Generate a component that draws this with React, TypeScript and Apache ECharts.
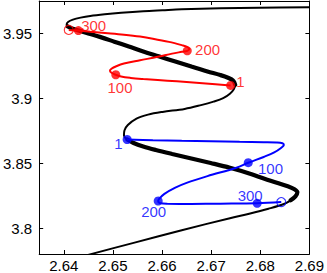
import React, { useEffect, useRef } from "react";
import * as echarts from "echarts";

// Axis ticks
const xTicks = [2.64, 2.65, 2.66, 2.67, 2.68, 2.69];
const yTicks = [3.8, 3.85, 3.9, 3.95];

// Black S-curve (x, y), from bottom to top
const blackCurve: number[][] = [
  [2.64475, 3.77915], [2.65422, 3.78859], [2.66402, 3.79835], [2.67382, 3.80757],
  [2.67775, 3.81102], [2.68167, 3.81486], [2.68494, 3.8187], [2.68618, 3.82139],
  [2.68716, 3.82446], [2.68755, 3.82753], [2.68696, 3.82984], [2.68559, 3.83214],
  [2.68225, 3.83621], [2.67775, 3.84213], [2.67382, 3.84651], [2.6699, 3.85019],
  [2.66598, 3.85365], [2.66206, 3.8571], [2.65873, 3.86018], [2.65618, 3.86286],
  [2.65422, 3.86555], [2.65294, 3.86824], [2.65225, 3.87131], [2.65235, 3.87515],
  [2.65304, 3.87938], [2.6548, 3.88437], [2.65716, 3.88744], [2.6601, 3.88952],
  [2.66461, 3.89182], [2.66794, 3.89474], [2.67049, 3.89743], [2.67245, 3.90012],
  [2.67382, 3.90357], [2.67461, 3.90703], [2.6749, 3.91048], [2.67451, 3.91356],
  [2.67343, 3.91586], [2.67186, 3.91793], [2.66925, 3.9207], [2.66598, 3.92446],
  [2.66271, 3.92838], [2.65931, 3.93237], [2.65618, 3.93606], [2.65324, 3.9399],
  [2.65029, 3.94366], [2.64735, 3.94735], [2.645, 3.95004], [2.64304, 3.95234],
  [2.64167, 3.95388], [2.64078, 3.95541], [2.64059, 3.95695], [2.64088, 3.95887],
  [2.64186, 3.96064], [2.64343, 3.96217], [2.64539, 3.96348], [2.64833, 3.96478],
  [2.65167, 3.96594], [2.65618, 3.96717], [2.6601, 3.96793], [2.66402, 3.96863],
  [2.67186, 3.96932], [2.67971, 3.96978], [2.6901, 3.97016],
];
// index ranges of the black curve drawn thick
const thickRanges = [[7, 21], [34, 49]];

// Red trajectory r
const redCurve: number[][] = [
  [2.67396, 3.90995], [2.67088, 3.91087], [2.66696, 3.91202], [2.66304, 3.9131],
  [2.65912, 3.91409], [2.65618, 3.91486], [2.65363, 3.91571], [2.65167, 3.91678],
  [2.65059, 3.91816], [2.64971, 3.9197], [2.64941, 3.92124], [2.64971, 3.92277],
  [2.65069, 3.92469], [2.65225, 3.92677], [2.65553, 3.9293], [2.65912, 3.93199],
  [2.66206, 3.93445], [2.66402, 3.93583], [2.66514, 3.9366], [2.66555, 3.93798],
  [2.6651, 3.93967], [2.66402, 3.94098], [2.66141, 3.94351], [2.65814, 3.94597],
  [2.65553, 3.94758], [2.65225, 3.94904], [2.64898, 3.95019], [2.64539, 3.95134],
  [2.64298, 3.95219], [2.64102, 3.95273],
];
const redMarkIdx = [0, 8, 18, 28];
const redMarkLabels = ["1", "100", "200", "300"];

// Blue trajectory q
const blueCurve: number[][] = [
  [2.6529, 3.86824], [2.65814, 3.8677], [2.66402, 3.86724], [2.6699, 3.86686],
  [2.67578, 3.86647], [2.68069, 3.86617], [2.68324, 3.86594], [2.68451, 3.86532],
  [2.6848, 3.86402], [2.68422, 3.86171], [2.68284, 3.85826], [2.68069, 3.8548],
  [2.67755, 3.85035], [2.67514, 3.84651], [2.66925, 3.84005], [2.665, 3.83483],
  [2.66271, 3.83114], [2.66049, 3.82638], [2.65941, 3.82254], [2.65922, 3.82085],
  [2.65971, 3.81909], [2.66108, 3.8187], [2.66598, 3.81862], [2.67186, 3.81878],
  [2.67937, 3.81909], [2.68427, 3.82001],
];
const blueMarkIdx = [0, 12, 19, 24];
const blueMarkLabels = ["1", "100", "200", "300"];

// Curve names and their anchor points
const curveNames = ["r", "q"];
const curveNamePoints = [[2.66127, 3.90464], [2.67441, 3.87631]];

// label offsets (px) for marked points
const redLabelOffsets = [[9.7, -4], [4.2, 13], [20.3, -1], [15.3, -4.9]];
const blueLabelOffsets = [[-8.8, 4], [22.3, 6], [-4.5, 11], [-7, -7.3]];

const FONT = "'Liberation Sans', Arial, Helvetica, sans-serif";
const FS = 15;
const RED = "#ff0000";
const BLUE = "#0000ff";

function fmt(v: number) {
  return String(parseFloat(v.toFixed(2)));
}

export default function App() {
  const ref = useRef<HTMLDivElement>(null);
  useEffect(() => {
    if (!ref.current) return;
    const chart = echarts.init(ref.current, null, { renderer: "svg" });

    const axisLine = { show: true, onZero: false, lineStyle: { color: "#000", width: 1 } };
    const xBase = { type: "value", min: 2.635, max: 2.69, splitLine: { show: false } };
    const yBase = { type: "value", min: 3.78, max: 3.975, splitLine: { show: false } };

    const markSeries = (curve: number[][], idx: number[], labels: string[], offsets: number[][], color: string) => ({
      type: "scatter",
      symbol: "circle",
      symbolSize: 9,
      itemStyle: { color },
      z: 5,
      data: idx.map((i, k) => ({
        value: curve[i],
        label: {
          show: true,
          formatter: labels[k],
          position: "inside",
          align: "center",
          verticalAlign: "middle",
          offset: offsets[k],
          color,
          fontSize: FS,
          fontFamily: FONT,
        },
      })),
    });

    const endSeries = (curve: number[][], color: string) => ({
      type: "scatter",
      symbol: "circle",
      symbolSize: 9,
      itemStyle: { color: "rgba(0,0,0,0)", borderColor: color, borderWidth: 1.1 },
      z: 5,
      data: [curve[curve.length - 1]],
    });

    const option = {
      animation: false,
      backgroundColor: "#fff",
      textStyle: { fontFamily: FONT },
      grid: { left: 32, top: 1, right: 14.3, bottom: 18 },
      xAxis: [
        {
          ...xBase,
          position: "bottom",
          axisLine,
          axisTick: { show: true, inside: true, length: 4, customValues: xTicks, lineStyle: { color: "#000" } },
          axisLabel: { show: true, customValues: xTicks, formatter: fmt, color: "#000", fontSize: FS, margin: 4, fontFamily: FONT },
        },
        {
          ...xBase,
          position: "top",
          axisLine,
          axisTick: { show: true, inside: true, length: 4, customValues: xTicks, lineStyle: { color: "#000" } },
          axisLabel: { show: false, customValues: xTicks },
        },
      ],
      yAxis: [
        {
          ...yBase,
          position: "left",
          axisLine,
          axisTick: { show: true, inside: true, length: 4, customValues: yTicks, lineStyle: { color: "#000" } },
          axisLabel: { show: true, customValues: yTicks, formatter: fmt, color: "#000", fontSize: FS, margin: 7, fontFamily: FONT },
        },
        {
          ...yBase,
          position: "right",
          axisLine,
          axisTick: { show: true, inside: true, length: 4, customValues: yTicks, lineStyle: { color: "#000" } },
          axisLabel: { show: false, customValues: yTicks },
        },
      ],
      series: [
        {
          type: "line",
          data: blackCurve,
          symbol: "none",
          smooth: 0.35,
          lineStyle: { color: "#000", width: 2 },
          z: 1,
        },
        ...thickRanges.map(([a, b]) => ({
          type: "line",
          data: blackCurve.slice(a, b + 1),
          symbol: "none",
          smooth: 0.35,
          lineStyle: { color: "#000", width: 4.2, cap: "round" },
          z: 2,
        })),
        {
          type: "line",
          data: redCurve,
          symbol: "none",
          smooth: 0.35,
          lineStyle: { color: RED, width: 2 },
          z: 3,
        },
        {
          type: "line",
          data: blueCurve,
          symbol: "none",
          smooth: 0.35,
          lineStyle: { color: BLUE, width: 2 },
          z: 3,
        },
        markSeries(redCurve, redMarkIdx, redMarkLabels, redLabelOffsets, RED),
        markSeries(blueCurve, blueMarkIdx, blueMarkLabels, blueLabelOffsets, BLUE),
        endSeries(redCurve, RED),
        endSeries(blueCurve, BLUE),
        {
          type: "scatter",
          symbol: "none",
          symbolSize: 0,
          z: 6,
          data: curveNamePoints.map((p, k) => ({
            value: p,
            label: {
              show: true,
              formatter: curveNames[k],
              position: "inside",
              align: "center",
              verticalAlign: "middle",
              color: k === 0 ? RED : BLUE,
              fontSize: FS,
              fontFamily: FONT,
            },
          })),
        },
      ],
    };
    chart.setOption(option as any);
    return () => chart.dispose();
  }, []);
  return (
    <div
      ref={ref}
      style={{ position: "fixed", left: 0, top: 0, width: 327, height: 273, background: "#fff" }}
    />
  );
}
